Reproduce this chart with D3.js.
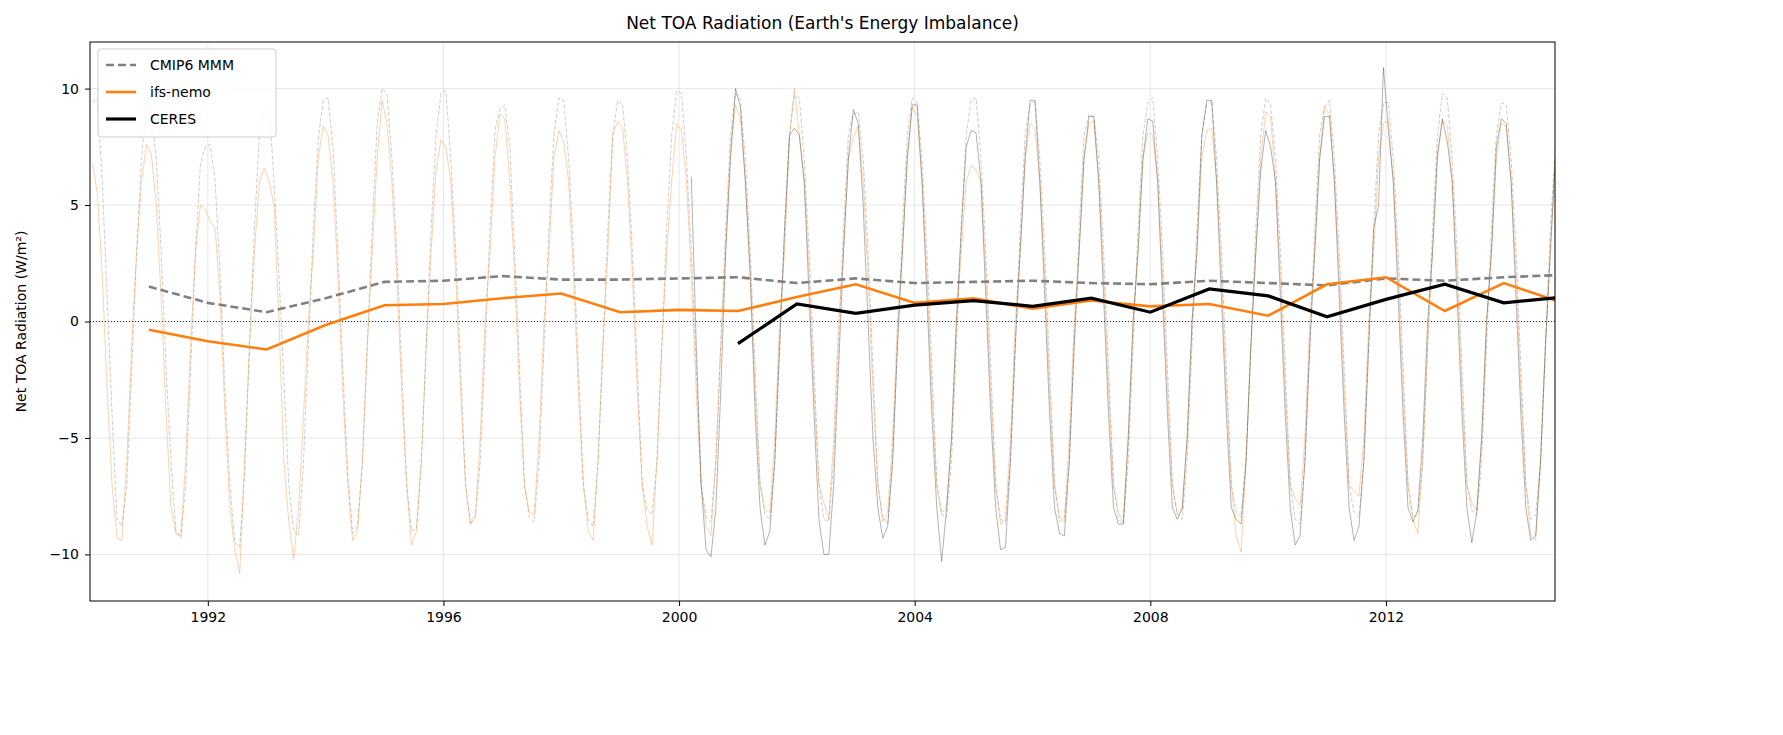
<!DOCTYPE html><html><head><meta charset="utf-8">
<script src="https://cdn.jsdelivr.net/npm/d3@7"></script>
<style>body{margin:0;background:#fff;font-family:"DejaVu Sans",sans-serif}</style></head><body>
<svg id="c" width="1783" height="735"></svg>
<script>
const years=d3.range(1990,2015);
const cmipMonthly=[
[9.4,9.6,6,1,-4,-8.5,-8.8,-7,-2,3,7,9.3],[8.9,7,3,-2,-6,-9,-9.3,-7,-2,3,6.8,7.5],
[7.6,6,2,-3,-7,-9.5,-9.7,-6.5,-1,4,8,9],[9.2,6,2,-2.5,-7,-9,-9.2,-6,-1,4,7.8,9.5],
[9.6,7.5,3,-2,-6.5,-9.1,-8.8,-6,-1,4,8.5,10],[9.8,7,3,-2,-7,-9,-8.9,-6,-1,4,8,9.8],
[9.9,7,3,-2,-7,-8.7,-8.4,-6,-1,4,8.2,9.1],[9.3,7.5,3,-2,-7,-8.4,-8.6,-6,-1,4,8,9.6],
[9.5,7,3,-2,-7,-8.5,-8.8,-6,-1,4,8,9.5],[9.3,7,3,-2,-7,-8.1,-8.3,-6,-1,4,8,9.9],
[9.8,7,3,-2,-7,-8.4,-8.6,-6,-1,4,8,9.8],[9.5,7,3,-2,-7,-8.3,-8.5,-6,-1,4,8,9.7],
[9.6,7,3,-2,-7,-8.5,-8.6,-6,-1,4,8,8.9],[9.0,7,3,-2,-7,-8.4,-8.7,-6,-1,4,8,9.6],
[9.4,7,3,-2,-7,-8.3,-8.4,-6,-1,4,8,9.5],[9.6,7,3,-2,-7,-8.5,-8.6,-6,-1,4,8,9.3],
[9.5,7,3,-2,-7,-8.6,-8.4,-6,-1,4,8,8.9],[8.8,7,3,-2,-7,-8.5,-8.7,-6,-1,4,8,9.4],
[9.6,7,3,-2,-7,-8.3,-8.5,-6,-1,4,8,9.3],[9.5,7,3,-2,-7,-8.2,-8.4,-6,-1,4,8,9.6],
[9.3,7,3,-2,-7,-8.5,-8.7,-6,-1,4,8,9.2],[9.5,7,3,-2,-7,-8.2,-8.4,-6,-1,4,8,9.4],
[9.4,7,3,-2,-7,-8.4,-8.3,-6,-1,4,8,9.8],[9.6,7,3,-2,-7,-8.1,-8.3,-6,-1,4,8,9.4],
[9.3,7,3,-2,-7,-8.5,-8.3,-6,-1,4,7.5,8.2]];
const ifsMonthly=[
[6.8,5.5,2,-3,-7,-9.3,-9.4,-6,-1,3,6,7.6],[7.2,5,1,-4,-8,-9.1,-9.2,-6,-1,3,5,4.8],
[4.3,4,1,-4,-8,-9.8,-10.8,-6,-1,3,6,6.6],[6,5,0,-6,-8.6,-10.2,-8,-4,0,3,7,8.4],
[8.0,6,2,-3,-7,-9.4,-9,-6,-1,3,7,9.5],[8.5,6,2,-3,-7,-9.6,-9,-6,-1,3,6.5,7.8],
[7.5,6,2,-3,-7,-8.7,-8.3,-5,0,3,7,8.9],[8.7,6,2,-3,-7,-8.2,-8.3,-5,0,3,7,8.2],
[7.7,6,2,-3,-7,-9.0,-9.4,-6,-1,3,8,8.6],[8.3,6,2,-3,-7,-8.8,-9.6,-6,-1,3,6,8.5],
[8.2,6,2,-3,-7,-8.8,-9.2,-6,-1,3,7.5,9.3],[8.7,6,2,-3,-7,-8.1,-8.2,-5,0,3,8,10.0],
[8.0,6,2,-3,-7,-7.8,-8.5,-5,0,3,7,7.9],[8.4,6,2,-3,-7,-8.6,-8.2,-5,0,3,7,9.2],
[8.8,6,2,-3,-7,-8.2,-8,-5,0,3,6,6.7],[6.5,6,2,-3,-7,-8.7,-8.6,-5,0,3,7,8.5],
[8.3,6,2,-3,-7,-8.4,-8.6,-5,0,3,7,8.5],[8.6,6,2,-3,-7,-8.2,-8.6,-5,0,3,7,8.1],
[8.0,6,2,-3,-7,-8.3,-8.1,-5,0,3,7,8.2],[8.3,6,2,-3,-7,-9.2,-9.9,-6,-1,3,7,9.0],
[8.8,6,2,-3,-7,-7.6,-7.9,-5,0,3,7,9.2],[8.9,6,2,-3,-7,-7.3,-7.5,-5,0,3,7,8.5],
[8.6,6,2,-3,-7,-8.5,-9.1,-6,-1,3,7,8.6],[8.4,6,2,-3,-7,-7.8,-8.1,-5,0,3,7,8.5],
[8.4,6,2,-3,-7,-9.2,-9.4,-6,-1,3,7,5]];
const ceresMonthly=[
[null,null,6.2,-1,-7,-9.8,-10.1,-8,-3,3,7,10],[9.2,6,2,-4,-8,-9.6,-9,-6,-1,4,8,8.3],
[8.0,6,1,-4,-8.5,-10,-10,-7,-2,3,7,9.1],[8.5,5,0,-5,-8,-9.3,-8.8,-6,-1,3,7,9.3],
[9.3,6,1,-4,-8,-10.3,-8,-5,0,4,7.5,8.2],[8.1,6,1,-4,-8,-9.8,-9.7,-6,-1,3,7,9.5],
[9.5,6,1,-4,-8,-9.1,-9.2,-6,-1,3,7,8.8],[8.8,6,1,-4,-8,-8.7,-8.7,-5,0,3,7,8.7],
[8.6,6,1,-4,-8,-8.5,-8,-5,0,3,8,9.5],[9.5,6,1,-4,-8,-8.5,-8.7,-6,-1,3,6.5,8.2],
[7.5,6,1,-4,-8,-9.6,-9.2,-6,-1,3,7,8.8],[8.8,6,1,-4,-8,-9.4,-8.8,-6,-1,4,5,10.9],
[8.2,6,1,-4,-8,-8.6,-8.1,-5,0,3,7.2,8.7],[7.7,6,1,-4,-8,-9.5,-8.2,-5,0,3,7.5,8.7],
[8.5,6,1,-4,-8,-9.4,-9.2,-6,-1,3,7,8.0]];
const annualYears=d3.range(1991,2016);
const cmipAnnual=[1.5,0.8,0.4,1.0,1.7,1.75,1.95,1.8,1.8,1.85,1.9,1.65,1.85,1.65,1.7,1.75,1.65,1.6,1.75,1.65,1.55,1.85,1.75,1.9,2.0];
const ifsAnnual=[-0.35,-0.85,-1.2,-0.15,0.7,0.75,1.0,1.2,0.4,0.5,0.45,1.05,1.6,0.8,1.0,0.55,0.9,0.65,0.75,0.25,1.6,1.9,0.45,1.65,0.8];
const ceresYears=d3.range(2001,2016);
const ceresAnnual=[-0.95,0.75,0.35,0.7,0.9,0.65,1.0,0.4,1.4,1.1,0.2,0.95,1.6,0.8,1.05];
const xTicks=[1992,1996,2000,2004,2008,2012], yTicks=[-10,-5,0,5,10];

const svg=d3.select("#c");
const L=90,R=1555,T=42,B=601;
const x=d3.scaleLinear().domain([1990,2014.87]).range([L,R]);
const y=d3.scaleLinear().domain([-12,12]).range([B,T]);
svg.append("defs").append("clipPath").attr("id","cp").append("rect").attr("x",L).attr("y",T).attr("width",R-L).attr("height",B-T);
const g=svg.append("g");
xTicks.forEach(t=>g.append("line").attr("x1",x(t)).attr("x2",x(t)).attr("y1",T).attr("y2",B).attr("stroke","#b0b0b0").attr("stroke-opacity",0.3));
yTicks.forEach(t=>g.append("line").attr("x1",L).attr("x2",R).attr("y1",y(t)).attr("y2",y(t)).attr("stroke","#b0b0b0").attr("stroke-opacity",0.3));
const p=svg.append("g").attr("clip-path","url(#cp)");
function flat(arr,y0){const o=[];arr.forEach((r,i)=>r.forEach((v,m)=>{if(v!==null)o.push([y0+i+(m+0.5)/12,v]);}));return o;}
const line=d3.line().x(d=>x(d[0])).y(d=>y(d[1]));
p.append("line").attr("x1",L).attr("x2",R).attr("y1",y(0)).attr("y2",y(0)).attr("stroke","#000").attr("stroke-width",0.8).attr("stroke-dasharray","1,2");
p.append("path").datum(flat(cmipMonthly,1990)).attr("d",line).attr("fill","none").attr("stroke","#aaa").attr("stroke-opacity",0.6).attr("stroke-width",1).attr("stroke-dasharray","4,2");
p.append("path").datum(flat(ifsMonthly,1990)).attr("d",line).attr("fill","none").attr("stroke","#ff7f0e").attr("stroke-opacity",0.35).attr("stroke-width",1);
p.append("path").datum(flat(ceresMonthly,2000)).attr("d",line).attr("fill","none").attr("stroke","#000").attr("stroke-opacity",0.3).attr("stroke-width",1);
p.append("path").datum(annualYears.map((yr,i)=>[yr,cmipAnnual[i]])).attr("d",line).attr("fill","none").attr("stroke","#808080").attr("stroke-width",2.6).attr("stroke-dasharray","8,4");
p.append("path").datum(annualYears.map((yr,i)=>[yr,ifsAnnual[i]])).attr("d",line).attr("fill","none").attr("stroke","#ff7f0e").attr("stroke-width",2.6);
p.append("path").datum(ceresYears.map((yr,i)=>[yr,ceresAnnual[i]])).attr("d",line).attr("fill","none").attr("stroke","#000").attr("stroke-width",3.2);
const ax=svg.append("g").attr("transform",`translate(0,${B})`).call(d3.axisBottom(x).tickValues(xTicks).tickFormat(d3.format("d")).tickSize(5).tickPadding(6));
const ay=svg.append("g").attr("transform",`translate(${L},0)`).call(d3.axisLeft(y).tickValues(yTicks).tickFormat(d=>d<0?"\u2212"+(-d):d).tickSize(5).tickPadding(6));
[ax,ay].forEach(a=>{a.select(".domain").remove();a.selectAll("text").attr("font-size",14).attr("font-family","DejaVu Sans").attr("fill","#000");});
svg.append("rect").attr("x",L).attr("y",T).attr("width",R-L).attr("height",B-T).attr("fill","none").attr("stroke","#000").attr("stroke-width",1);
svg.append("text").attr("x",(L+R)/2).attr("y",29).attr("text-anchor","middle").attr("font-size",17).text("Net TOA Radiation (Earth's Energy Imbalance)");
svg.append("text").attr("transform",`translate(26,${(T+B)/2}) rotate(-90)`).attr("text-anchor","middle").attr("font-size",14).text("Net TOA Radiation (W/m²)");
const lg=svg.append("g").attr("transform",`translate(${L+8},${T+7})`);
lg.append("rect").attr("width",178).attr("height",88).attr("rx",3).attr("fill","#fff").attr("fill-opacity",0.8).attr("stroke","#ccc");
[["CMIP6 MMM","#808080",2.6,"8,4"],["ifs-nemo","#ff7f0e",2.6,null],["CERES","#000",3.2,null]].forEach((d,i)=>{
 const yy=16+i*27;
 lg.append("line").attr("x1",8).attr("x2",38).attr("y1",yy).attr("y2",yy).attr("stroke",d[1]).attr("stroke-width",d[2]).attr("stroke-dasharray",d[3]);
 lg.append("text").attr("x",52).attr("y",yy+5).attr("font-size",14).text(d[0]);
});
</script></body></html>
